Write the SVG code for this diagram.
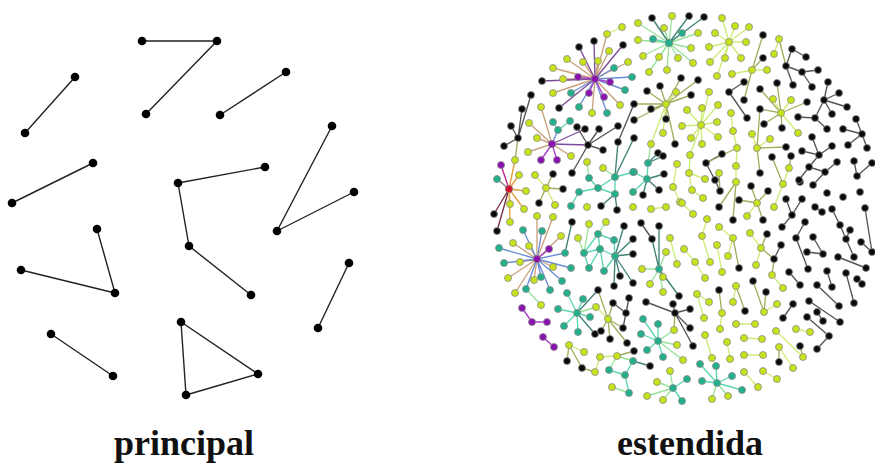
<svg xmlns="http://www.w3.org/2000/svg" width="875" height="464" viewBox="0 0 875 464">
<style>
.le{stroke:#222;stroke-width:1.4;fill:none}
.ln circle{fill:#000}
.e{fill:none;stroke-width:1.35}
.kk{stroke:#555}.ky{stroke:#a3ad5e}.yy{stroke:#cdee76}.yt{stroke:#98e39a}.tt{stroke:#5cd6b2}.kt{stroke:#3f8276}
.py{stroke:#c9a27e}.pt{stroke:#6b8cd6}.pk{stroke:#7d4a9a}.pp{stroke:#a83ccc}.rk{stroke:#7a3040}.ry{stroke:#e2a040}.rt{stroke:#8a7a90}.rp{stroke:#c02a8a}
.nd circle{stroke:#8a8a8a;stroke-width:0.8}
#ny circle{fill:#c9e31b}#nt circle{fill:#22b08c}#np circle{fill:#8a10b0}#nr circle{fill:#d3102c}#nk circle{fill:#0a0a0a}
.lbl{font-family:"Liberation Serif",serif;font-weight:bold;font-size:36px;fill:#111;text-anchor:middle}
</style>
<rect width="875" height="464" fill="#fff"/>
<g id="left-edges">
<path class="le" d="M142 41L217 41M217 41L146 114M75 77L25 133M286 72L220 115M332 126L277 231M277 231L354 192M93 163L12 203M265 167L178 183M178 183L189 246M189 246L251 295M97 229L115 293M21 270L115 293M349 263L318 328M51 334L113 376M181 322L258 374M258 374L186 395M186 395L181 322"/>
</g>
<g class="ln">
<g id="l1"><circle cx="142" cy="41" r="4.3"/></g>
<g id="l2"><circle cx="217" cy="41" r="4.3"/></g>
<g id="l3"><circle cx="146" cy="114" r="4.3"/></g>
<g id="l4"><circle cx="75" cy="77" r="4.3"/></g>
<g id="l5"><circle cx="25" cy="133" r="4.3"/></g>
<g id="l6"><circle cx="286" cy="72" r="4.3"/></g>
<g id="l7"><circle cx="220" cy="115" r="4.3"/></g>
<g id="l8"><circle cx="332" cy="126" r="4.3"/></g>
<g id="l9"><circle cx="277" cy="231" r="4.3"/></g>
<g id="l10"><circle cx="354" cy="192" r="4.3"/></g>
<g id="l11"><circle cx="93" cy="163" r="4.3"/></g>
<g id="l12"><circle cx="12" cy="203" r="4.3"/></g>
<g id="l13"><circle cx="265" cy="167" r="4.3"/></g>
<g id="l14"><circle cx="178" cy="183" r="4.3"/></g>
<g id="l15"><circle cx="189" cy="246" r="4.3"/></g>
<g id="l16"><circle cx="251" cy="295" r="4.3"/></g>
<g id="l17"><circle cx="97" cy="229" r="4.3"/></g>
<g id="l18"><circle cx="21" cy="270" r="4.3"/></g>
<g id="l19"><circle cx="115" cy="293" r="4.3"/></g>
<g id="l20"><circle cx="349" cy="263" r="4.3"/></g>
<g id="l21"><circle cx="318" cy="328" r="4.3"/></g>
<g id="l22"><circle cx="51" cy="334" r="4.3"/></g>
<g id="l23"><circle cx="113" cy="376" r="4.3"/></g>
<g id="l24"><circle cx="181" cy="322" r="4.3"/></g>
<g id="l25"><circle cx="258" cy="374" r="4.3"/></g>
<g id="l26"><circle cx="186" cy="395" r="4.3"/></g>
</g>
<g id="right-edges">
<path class="e kk" d="M518 138L511 126M518 138L522 109M518 138L531 95M518 138L504 146M588 145L599 129M588 145L618 126M588 145L603 150M588 145L572 173M588 145L577 127M634 104L618 142M706 163L715 180M706 163L722 154M715 180L720 191M729 92L744 82M729 92L747 118M792 49L806 57M792 49L786 66M786 66L802 72M802 72L818 70M802 72L812 87M786 66L793 85M824 100L828 82M824 100L839 93M824 100L847 107M824 100L832 114M824 100L815 118M815 118L798 117M815 118L827 129M862 134L856 119M862 134L843 129M862 134L848 145M862 134L867 148M819 155L812 137M819 155L832 146M819 155L802 151M819 155L809 167M809 167L825 172M825 172L837 162M809 167L799 180M825 172L813 185M857 176L854 161M857 176L872 163M786 199L792 215M802 199L792 215M626 313L613 303M629 298L626 313M626 313L623 328M641 223L652 239M675 313L673 304M675 313L690 309M675 313L646 302M675 313L690 328M675 313L693 346M774 259L781 245M792 215L782 227M796 238L805 222M796 238L808 269M813 237L823 254M807 252L823 254M822 212L815 207M832 209L840 225M840 225L846 239M846 239L850 230M846 239L854 257M861 242L872 252M865 208L872 252M838 257L866 268M789 272L800 285M827 271L832 287M817 285L839 306M846 273L854 303M857 279L862 284M793 304L783 318M809 301L840 322M817 312L823 321M807 317L829 336M829 336L817 349"/>
<path class="e ky" d="M518 138L515 160M546 188L563 189M546 188L553 174M546 188L539 203M666 104L647 91M666 104L660 86M666 104L681 78M666 104L698 80M666 104L691 95M666 104L651 109M666 104L634 104M666 104L634 120M666 104L666 119M666 104L675 144M706 163L737 148M719 173L720 191M736 182L719 207M736 182L733 220M752 70L763 35M752 70L744 100M752 70L763 58M779 39L786 66M781 113L777 83M781 113L760 89M781 113L807 102M781 113L760 109M781 113L764 124M781 113L782 128M757 148L786 147M757 148L760 173M757 148L760 109M772 157L783 184M791 156L789 168M757 203L751 186M757 203L768 191M757 203L739 200M757 203L763 220M675 313L674 330M608 319L598 290M608 319L613 303M608 319L601 331M608 319L610 339M608 319L623 328M608 319L627 343M569 345L567 361M569 345L582 368M582 368L595 372M617 356L634 351M733 238L739 268M719 290L722 313M736 286L745 311M767 234L761 248M761 248L774 259M774 259L772 275M753 281L764 312M766 292L764 312M779 347L779 362M800 346L803 357"/>
<path class="e yy" d="M607 34L622 27M729 42L722 18M729 42L735 26M729 42L749 27M729 42L715 33M729 42L746 42M729 42L709 47M729 42L725 58M729 42L741 58M729 42L710 62M729 42L717 76M701 125L709 92M701 125L718 105M701 125L702 108M701 125L687 110M701 125L682 126M701 125L717 122M701 125L691 138M701 125L702 144M701 125L718 137M701 125L690 155M666 104L676 92M666 104L663 133M666 104L651 144M677 164L673 187M689 173L690 155M689 173L705 179M689 173L692 190M692 190L703 198M673 187L680 202M737 148L733 131M733 131L731 113M736 166L737 148M736 166L736 182M752 70L767 70M752 70L732 74M774 54L779 39M781 113L773 99M781 113L791 100M781 113L798 133M757 148L770 139M757 148L752 134M789 168L783 184M783 184L774 207M757 203L747 216M535 175L546 188M546 188L555 205M670 238L677 264M684 249L695 262M695 262L705 278M707 219L702 236M702 236L710 262M717 245L722 272M719 227L733 238M733 238L728 256M697 294L709 302M697 294L704 318M736 286L733 302M705 335L712 358M727 342L730 359M761 248L756 265M772 275L783 288M761 248L750 233M764 312L777 304M776 331L803 357M796 329L810 332M779 347L793 368M763 371L777 379M744 338L762 339M744 355L763 355M744 372L758 387M755 324L736 324M720 329L722 313M569 345L584 352M600 357L617 356M600 357L595 372M608 319L596 307M693 214L682 203M651 209L666 207"/>
<path class="e yt" d="M669 43L672 16M669 43L638 23M669 43L664 28M669 43L698 33M669 43L638 40M669 43L691 48M669 43L643 56M669 43L659 57M669 43L678 58M669 43L693 63M669 43L649 72M669 43L667 70M587 162L589 178M603 168L615 177M651 144L648 163M526 289L541 305M589 224L584 253M578 238L584 253M606 222L598 234M577 313L596 307M658 341L674 330M658 341L677 345M658 341L683 360M617 356L633 361M617 356L609 370M612 387L629 393M673 388L670 371M673 388L657 382M673 388L647 396M673 388L663 400M717 383L712 399M717 383L728 396M659 269L666 252M659 269L642 269M659 269L650 284M659 269L663 277M659 269L663 292"/>
<path class="e tt" d="M669 43L682 33M669 43L653 39M558 130L553 122M558 130L570 121M589 178L598 188M598 188L615 194M615 177L634 172M615 177L615 194M598 188L579 192M579 192L571 206M615 177L598 188M647 179L648 163M647 179L633 172M647 179L633 192M584 253L598 234M598 234L600 249M600 249L615 256M584 253L589 268M589 268L600 249M600 249L604 271M604 271L615 256M614 240L615 256M598 234L614 240M584 253L600 249M577 313L567 293M577 313L583 299M577 313L558 309M577 313L590 317M577 313L564 326M577 313L578 332M633 361L625 375M609 370L625 375M625 375L629 393M658 341L643 319M658 341L658 324M658 341L641 334M658 341L647 350M658 341L663 357M673 388L687 379M673 388L682 401M717 383L700 364M717 383L716 366M717 383L732 376M717 383L702 381M717 383L742 390"/>
<path class="e kt" d="M669 43L652 18M669 43L689 16M669 43L704 17M615 177L618 142M615 194L601 206M615 194L617 210M634 138L615 177M647 179L664 174M647 179L659 190M647 179L643 195M648 163L658 153M648 163L663 156M615 256L624 226M615 256L633 239M615 256L633 254M615 256L620 276M615 256L633 283M615 256L614 286M577 313L598 290M577 313L595 334M633 361L650 366M659 269L659 226M659 269L652 239M659 269L679 296M565 253L572 222"/>
<path class="e py" d="M595 79L598 61M595 79L609 51M595 79L607 34M595 79L583 62M595 79L567 59M595 79L553 68M595 79L563 79M595 79L553 93M595 79L592 113M595 79L620 105M595 79L628 62M552 144L541 107M552 144L529 123M552 144L537 138M552 144L528 152M552 144L571 156M537 259L537 216M537 259L553 217M537 259L561 236M537 259L513 243M537 259L529 246M537 259L520 262M537 259L553 267M537 259L508 278M537 259L534 280M537 259L515 293"/>
<path class="e pt" d="M595 79L571 93M595 79L579 107M595 79L607 113M595 79L625 90M595 79L632 77M595 79L614 68M552 144L558 130M537 259L523 230M537 259L542 231M537 259L499 248M537 259L565 253M537 259L504 263M537 259L571 268M537 259L541 277M537 259L562 281M537 259L526 289M537 259L550 290"/>
<path class="e pk" d="M595 79L594 41M595 79L579 47M595 79L623 45M595 79L542 81M595 79L559 108M552 144L588 145M552 144L585 129"/>
<path class="e pp" d="M595 79L578 77M595 79L589 93M595 79L604 97M595 79L610 82M552 144L541 160M552 144L557 160M537 259L549 249M522 308L532 322M532 322L547 322M543 337L554 347"/>
<path class="e rk" d="M509 189L494 214M509 189L497 231"/>
<path class="e ry" d="M509 189L519 175M509 189L526 191M509 189L515 160M509 189L510 204M509 189L510 222M509 189L524 209"/>
<path class="e rt" d="M509 189L497 179"/>
<path class="e rp" d="M509 189L501 165"/>
</g>
<g id="nk" class="nd">
<circle cx="594" cy="41" r="3.5"/><circle cx="579" cy="47" r="3.5"/><circle cx="623" cy="45" r="3.5"/><circle cx="542" cy="81" r="3.5"/><circle cx="559" cy="108" r="3.5"/>
<circle cx="518" cy="138" r="3.5"/><circle cx="511" cy="126" r="3.5"/><circle cx="522" cy="109" r="3.5"/><circle cx="531" cy="95" r="3.5"/><circle cx="504" cy="146" r="3.5"/>
<circle cx="588" cy="145" r="3.5"/><circle cx="599" cy="129" r="3.5"/><circle cx="618" cy="126" r="3.5"/><circle cx="603" cy="150" r="3.5"/><circle cx="572" cy="173" r="3.5"/><circle cx="577" cy="127" r="3.5"/><circle cx="585" cy="129" r="3.5"/>
<circle cx="494" cy="214" r="3.5"/><circle cx="497" cy="231" r="3.5"/><circle cx="563" cy="189" r="3.5"/><circle cx="553" cy="174" r="3.5"/><circle cx="539" cy="203" r="3.5"/>
<circle cx="652" cy="18" r="3.5"/><circle cx="689" cy="16" r="3.5"/><circle cx="704" cy="17" r="3.5"/>
<circle cx="647" cy="91" r="3.5"/><circle cx="660" cy="86" r="3.5"/><circle cx="681" cy="78" r="3.5"/><circle cx="698" cy="80" r="3.5"/><circle cx="691" cy="95" r="3.5"/><circle cx="651" cy="109" r="3.5"/><circle cx="634" cy="104" r="3.5"/><circle cx="634" cy="120" r="3.5"/><circle cx="666" cy="119" r="3.5"/><circle cx="675" cy="144" r="3.5"/>
<circle cx="618" cy="142" r="3.5"/><circle cx="634" cy="138" r="3.5"/><circle cx="658" cy="153" r="3.5"/><circle cx="663" cy="156" r="3.5"/><circle cx="664" cy="174" r="3.5"/><circle cx="659" cy="190" r="3.5"/><circle cx="643" cy="195" r="3.5"/><circle cx="601" cy="206" r="3.5"/><circle cx="617" cy="210" r="3.5"/>
<circle cx="706" cy="163" r="3.5"/><circle cx="722" cy="154" r="3.5"/><circle cx="715" cy="180" r="3.5"/><circle cx="720" cy="191" r="3.5"/><circle cx="719" cy="207" r="3.5"/><circle cx="733" cy="220" r="3.5"/>
<circle cx="751" cy="186" r="3.5"/><circle cx="768" cy="191" r="3.5"/><circle cx="739" cy="200" r="3.5"/><circle cx="763" cy="220" r="3.5"/><circle cx="800" cy="182" r="3.5"/>
<circle cx="763" cy="35" r="3.5"/><circle cx="744" cy="82" r="3.5"/><circle cx="729" cy="92" r="3.5"/><circle cx="744" cy="100" r="3.5"/><circle cx="747" cy="118" r="3.5"/><circle cx="763" cy="58" r="3.5"/>
<circle cx="792" cy="49" r="3.5"/><circle cx="806" cy="57" r="3.5"/><circle cx="786" cy="66" r="3.5"/><circle cx="802" cy="72" r="3.5"/><circle cx="818" cy="70" r="3.5"/><circle cx="812" cy="87" r="3.5"/><circle cx="793" cy="85" r="3.5"/>
<circle cx="824" cy="100" r="3.5"/><circle cx="828" cy="82" r="3.5"/><circle cx="839" cy="93" r="3.5"/><circle cx="847" cy="107" r="3.5"/><circle cx="832" cy="114" r="3.5"/><circle cx="815" cy="118" r="3.5"/><circle cx="798" cy="117" r="3.5"/><circle cx="827" cy="129" r="3.5"/>
<circle cx="777" cy="83" r="3.5"/><circle cx="760" cy="89" r="3.5"/><circle cx="807" cy="102" r="3.5"/><circle cx="760" cy="109" r="3.5"/><circle cx="764" cy="124" r="3.5"/><circle cx="782" cy="128" r="3.5"/><circle cx="786" cy="147" r="3.5"/><circle cx="760" cy="173" r="3.5"/>
<circle cx="862" cy="134" r="3.5"/><circle cx="856" cy="119" r="3.5"/><circle cx="843" cy="129" r="3.5"/><circle cx="848" cy="145" r="3.5"/><circle cx="867" cy="148" r="3.5"/>
<circle cx="819" cy="155" r="3.5"/><circle cx="812" cy="137" r="3.5"/><circle cx="832" cy="146" r="3.5"/><circle cx="802" cy="151" r="3.5"/><circle cx="809" cy="167" r="3.5"/><circle cx="825" cy="172" r="3.5"/><circle cx="837" cy="162" r="3.5"/><circle cx="799" cy="180" r="3.5"/><circle cx="813" cy="185" r="3.5"/>
<circle cx="857" cy="176" r="3.5"/><circle cx="854" cy="161" r="3.5"/><circle cx="872" cy="163" r="3.5"/>
<circle cx="772" cy="157" r="3.5"/><circle cx="791" cy="156" r="3.5"/><circle cx="786" cy="199" r="3.5"/><circle cx="802" cy="199" r="3.5"/><circle cx="827" cy="193" r="3.5"/><circle cx="843" cy="197" r="3.5"/><circle cx="860" cy="192" r="3.5"/>
<circle cx="572" cy="222" r="3.5"/><circle cx="624" cy="226" r="3.5"/><circle cx="633" cy="239" r="3.5"/><circle cx="633" cy="254" r="3.5"/><circle cx="620" cy="276" r="3.5"/><circle cx="633" cy="283" r="3.5"/><circle cx="614" cy="286" r="3.5"/>
<circle cx="598" cy="290" r="3.5"/><circle cx="595" cy="334" r="3.5"/><circle cx="613" cy="303" r="3.5"/><circle cx="601" cy="331" r="3.5"/><circle cx="610" cy="339" r="3.5"/><circle cx="623" cy="328" r="3.5"/><circle cx="627" cy="343" r="3.5"/><circle cx="626" cy="313" r="3.5"/><circle cx="629" cy="298" r="3.5"/>
<circle cx="567" cy="361" r="3.5"/><circle cx="582" cy="368" r="3.5"/><circle cx="634" cy="351" r="3.5"/><circle cx="650" cy="366" r="3.5"/>
<circle cx="675" cy="313" r="3.5"/><circle cx="673" cy="304" r="3.5"/><circle cx="690" cy="309" r="3.5"/><circle cx="646" cy="302" r="3.5"/><circle cx="690" cy="328" r="3.5"/><circle cx="693" cy="346" r="3.5"/>
<circle cx="641" cy="223" r="3.5"/><circle cx="652" cy="239" r="3.5"/><circle cx="659" cy="226" r="3.5"/><circle cx="679" cy="296" r="3.5"/>
<circle cx="739" cy="268" r="3.5"/><circle cx="719" cy="290" r="3.5"/><circle cx="745" cy="311" r="3.5"/>
<circle cx="767" cy="234" r="3.5"/><circle cx="774" cy="259" r="3.5"/><circle cx="781" cy="245" r="3.5"/>
<circle cx="792" cy="215" r="3.5"/><circle cx="782" cy="227" r="3.5"/><circle cx="805" cy="222" r="3.5"/><circle cx="796" cy="238" r="3.5"/><circle cx="808" cy="269" r="3.5"/><circle cx="813" cy="237" r="3.5"/><circle cx="823" cy="254" r="3.5"/><circle cx="807" cy="252" r="3.5"/><circle cx="822" cy="212" r="3.5"/><circle cx="815" cy="207" r="3.5"/><circle cx="832" cy="209" r="3.5"/><circle cx="840" cy="225" r="3.5"/><circle cx="846" cy="239" r="3.5"/><circle cx="850" cy="230" r="3.5"/><circle cx="854" cy="257" r="3.5"/><circle cx="861" cy="242" r="3.5"/><circle cx="872" cy="252" r="3.5"/><circle cx="865" cy="208" r="3.5"/><circle cx="838" cy="257" r="3.5"/><circle cx="866" cy="268" r="3.5"/>
<circle cx="789" cy="272" r="3.5"/><circle cx="800" cy="285" r="3.5"/><circle cx="827" cy="271" r="3.5"/><circle cx="832" cy="287" r="3.5"/><circle cx="817" cy="285" r="3.5"/><circle cx="839" cy="306" r="3.5"/><circle cx="846" cy="273" r="3.5"/><circle cx="854" cy="303" r="3.5"/><circle cx="857" cy="279" r="3.5"/><circle cx="862" cy="284" r="3.5"/>
<circle cx="753" cy="281" r="3.5"/><circle cx="766" cy="292" r="3.5"/><circle cx="793" cy="304" r="3.5"/><circle cx="783" cy="318" r="3.5"/><circle cx="809" cy="301" r="3.5"/><circle cx="840" cy="322" r="3.5"/><circle cx="817" cy="312" r="3.5"/><circle cx="823" cy="321" r="3.5"/><circle cx="807" cy="317" r="3.5"/><circle cx="829" cy="336" r="3.5"/><circle cx="817" cy="349" r="3.5"/>
<circle cx="779" cy="362" r="3.5"/><circle cx="800" cy="346" r="3.5"/>
</g>
<g id="ny" class="nd">
<circle cx="598" cy="61" r="3.5"/><circle cx="609" cy="51" r="3.5"/><circle cx="607" cy="34" r="3.5"/><circle cx="622" cy="27" r="3.5"/><circle cx="583" cy="62" r="3.5"/><circle cx="567" cy="59" r="3.5"/><circle cx="553" cy="68" r="3.5"/><circle cx="563" cy="79" r="3.5"/><circle cx="553" cy="93" r="3.5"/><circle cx="592" cy="113" r="3.5"/><circle cx="620" cy="105" r="3.5"/><circle cx="628" cy="62" r="3.5"/>
<circle cx="541" cy="107" r="3.5"/><circle cx="529" cy="123" r="3.5"/><circle cx="537" cy="138" r="3.5"/><circle cx="528" cy="152" r="3.5"/><circle cx="571" cy="156" r="3.5"/><circle cx="515" cy="160" r="3.5"/><circle cx="519" cy="175" r="3.5"/><circle cx="526" cy="191" r="3.5"/><circle cx="510" cy="204" r="3.5"/><circle cx="510" cy="222" r="3.5"/><circle cx="524" cy="209" r="3.5"/>
<circle cx="535" cy="175" r="3.5"/><circle cx="546" cy="188" r="3.5"/><circle cx="555" cy="205" r="3.5"/>
<circle cx="672" cy="16" r="3.5"/><circle cx="638" cy="23" r="3.5"/><circle cx="664" cy="28" r="3.5"/><circle cx="698" cy="33" r="3.5"/><circle cx="638" cy="40" r="3.5"/><circle cx="691" cy="48" r="3.5"/><circle cx="643" cy="56" r="3.5"/><circle cx="659" cy="57" r="3.5"/><circle cx="678" cy="58" r="3.5"/><circle cx="693" cy="63" r="3.5"/><circle cx="649" cy="72" r="3.5"/><circle cx="667" cy="70" r="3.5"/>
<circle cx="729" cy="42" r="3.5"/><circle cx="722" cy="18" r="3.5"/><circle cx="735" cy="26" r="3.5"/><circle cx="749" cy="27" r="3.5"/><circle cx="715" cy="33" r="3.5"/><circle cx="746" cy="42" r="3.5"/><circle cx="709" cy="47" r="3.5"/><circle cx="725" cy="58" r="3.5"/><circle cx="741" cy="58" r="3.5"/><circle cx="710" cy="62" r="3.5"/><circle cx="717" cy="76" r="3.5"/>
<circle cx="666" cy="104" r="3.5"/><circle cx="676" cy="92" r="3.5"/><circle cx="663" cy="133" r="3.5"/><circle cx="651" cy="144" r="3.5"/>
<circle cx="701" cy="125" r="3.5"/><circle cx="709" cy="92" r="3.5"/><circle cx="718" cy="105" r="3.5"/><circle cx="702" cy="108" r="3.5"/><circle cx="687" cy="110" r="3.5"/><circle cx="682" cy="126" r="3.5"/><circle cx="717" cy="122" r="3.5"/><circle cx="691" cy="138" r="3.5"/><circle cx="702" cy="144" r="3.5"/><circle cx="718" cy="137" r="3.5"/><circle cx="690" cy="155" r="3.5"/>
<circle cx="587" cy="162" r="3.5"/><circle cx="603" cy="168" r="3.5"/>
<circle cx="677" cy="164" r="3.5"/><circle cx="673" cy="187" r="3.5"/><circle cx="689" cy="173" r="3.5"/><circle cx="705" cy="179" r="3.5"/><circle cx="692" cy="190" r="3.5"/><circle cx="703" cy="198" r="3.5"/><circle cx="680" cy="202" r="3.5"/>
<circle cx="737" cy="148" r="3.5"/><circle cx="733" cy="131" r="3.5"/><circle cx="731" cy="113" r="3.5"/><circle cx="736" cy="166" r="3.5"/><circle cx="736" cy="182" r="3.5"/><circle cx="719" cy="173" r="3.5"/>
<circle cx="752" cy="70" r="3.5"/><circle cx="767" cy="70" r="3.5"/><circle cx="732" cy="74" r="3.5"/><circle cx="779" cy="39" r="3.5"/><circle cx="774" cy="54" r="3.5"/>
<circle cx="781" cy="113" r="3.5"/><circle cx="773" cy="99" r="3.5"/><circle cx="791" cy="100" r="3.5"/><circle cx="798" cy="133" r="3.5"/>
<circle cx="757" cy="148" r="3.5"/><circle cx="770" cy="139" r="3.5"/><circle cx="752" cy="134" r="3.5"/>
<circle cx="789" cy="168" r="3.5"/><circle cx="783" cy="184" r="3.5"/><circle cx="774" cy="207" r="3.5"/><circle cx="757" cy="203" r="3.5"/><circle cx="747" cy="216" r="3.5"/>
<circle cx="537" cy="216" r="3.5"/><circle cx="553" cy="217" r="3.5"/><circle cx="561" cy="236" r="3.5"/><circle cx="513" cy="243" r="3.5"/><circle cx="529" cy="246" r="3.5"/><circle cx="520" cy="262" r="3.5"/><circle cx="553" cy="267" r="3.5"/><circle cx="508" cy="278" r="3.5"/><circle cx="534" cy="280" r="3.5"/><circle cx="515" cy="293" r="3.5"/><circle cx="541" cy="305" r="3.5"/>
<circle cx="589" cy="224" r="3.5"/><circle cx="578" cy="238" r="3.5"/><circle cx="606" cy="222" r="3.5"/>
<circle cx="596" cy="307" r="3.5"/><circle cx="608" cy="319" r="3.5"/><circle cx="569" cy="345" r="3.5"/><circle cx="584" cy="352" r="3.5"/><circle cx="595" cy="372" r="3.5"/><circle cx="600" cy="357" r="3.5"/><circle cx="617" cy="356" r="3.5"/><circle cx="612" cy="387" r="3.5"/>
<circle cx="677" cy="345" r="3.5"/><circle cx="683" cy="360" r="3.5"/><circle cx="674" cy="330" r="3.5"/>
<circle cx="670" cy="371" r="3.5"/><circle cx="657" cy="382" r="3.5"/><circle cx="647" cy="396" r="3.5"/><circle cx="663" cy="400" r="3.5"/><circle cx="712" cy="399" r="3.5"/><circle cx="728" cy="396" r="3.5"/>
<circle cx="666" cy="252" r="3.5"/><circle cx="642" cy="269" r="3.5"/><circle cx="650" cy="284" r="3.5"/><circle cx="663" cy="277" r="3.5"/><circle cx="663" cy="292" r="3.5"/>
<circle cx="670" cy="238" r="3.5"/><circle cx="677" cy="264" r="3.5"/><circle cx="684" cy="249" r="3.5"/><circle cx="695" cy="262" r="3.5"/><circle cx="705" cy="278" r="3.5"/><circle cx="707" cy="219" r="3.5"/><circle cx="702" cy="236" r="3.5"/><circle cx="710" cy="262" r="3.5"/><circle cx="717" cy="245" r="3.5"/><circle cx="722" cy="272" r="3.5"/><circle cx="719" cy="227" r="3.5"/><circle cx="733" cy="238" r="3.5"/><circle cx="728" cy="256" r="3.5"/>
<circle cx="697" cy="294" r="3.5"/><circle cx="709" cy="302" r="3.5"/><circle cx="704" cy="318" r="3.5"/><circle cx="722" cy="313" r="3.5"/><circle cx="736" cy="286" r="3.5"/><circle cx="733" cy="302" r="3.5"/><circle cx="736" cy="324" r="3.5"/><circle cx="705" cy="335" r="3.5"/><circle cx="712" cy="358" r="3.5"/><circle cx="727" cy="342" r="3.5"/><circle cx="730" cy="359" r="3.5"/><circle cx="744" cy="338" r="3.5"/><circle cx="744" cy="355" r="3.5"/><circle cx="744" cy="372" r="3.5"/><circle cx="720" cy="329" r="3.5"/>
<circle cx="761" cy="248" r="3.5"/><circle cx="756" cy="265" r="3.5"/><circle cx="772" cy="275" r="3.5"/><circle cx="783" cy="288" r="3.5"/><circle cx="750" cy="233" r="3.5"/><circle cx="764" cy="312" r="3.5"/><circle cx="777" cy="304" r="3.5"/>
<circle cx="755" cy="324" r="3.5"/><circle cx="762" cy="339" r="3.5"/><circle cx="763" cy="355" r="3.5"/><circle cx="776" cy="331" r="3.5"/><circle cx="796" cy="329" r="3.5"/><circle cx="810" cy="332" r="3.5"/><circle cx="779" cy="347" r="3.5"/><circle cx="803" cy="357" r="3.5"/><circle cx="793" cy="368" r="3.5"/><circle cx="763" cy="371" r="3.5"/><circle cx="777" cy="379" r="3.5"/><circle cx="758" cy="387" r="3.5"/>
<circle cx="587" cy="207" r="3.5"/><circle cx="633" cy="207" r="3.5"/><circle cx="651" cy="209" r="3.5"/><circle cx="666" cy="207" r="3.5"/><circle cx="682" cy="203" r="3.5"/><circle cx="693" cy="214" r="3.5"/>
</g>
<g id="nt" class="nd">
<circle cx="571" cy="93" r="3.5"/><circle cx="579" cy="107" r="3.5"/><circle cx="607" cy="113" r="3.5"/><circle cx="625" cy="90" r="3.5"/><circle cx="632" cy="77" r="3.5"/><circle cx="614" cy="68" r="3.5"/>
<circle cx="558" cy="130" r="3.5"/><circle cx="553" cy="122" r="3.5"/><circle cx="570" cy="121" r="3.5"/><circle cx="497" cy="179" r="3.5"/>
<circle cx="682" cy="33" r="3.5"/><circle cx="653" cy="39" r="3.5"/><circle cx="669" cy="43" r="3.7"/>
<circle cx="615" cy="177" r="3.5"/><circle cx="589" cy="178" r="3.5"/><circle cx="598" cy="188" r="3.5"/><circle cx="615" cy="194" r="3.5"/><circle cx="634" cy="172" r="3.5"/><circle cx="579" cy="192" r="3.5"/><circle cx="571" cy="206" r="3.5"/>
<circle cx="647" cy="179" r="3.5"/><circle cx="648" cy="163" r="3.5"/><circle cx="633" cy="172" r="3.5"/><circle cx="633" cy="192" r="3.5"/>
<circle cx="523" cy="230" r="3.5"/><circle cx="542" cy="231" r="3.5"/><circle cx="499" cy="248" r="3.5"/><circle cx="565" cy="253" r="3.5"/><circle cx="504" cy="263" r="3.5"/><circle cx="571" cy="268" r="3.5"/><circle cx="541" cy="277" r="3.5"/><circle cx="562" cy="281" r="3.5"/><circle cx="526" cy="289" r="3.5"/><circle cx="550" cy="290" r="3.5"/>
<circle cx="598" cy="234" r="3.5"/><circle cx="584" cy="253" r="3.5"/><circle cx="600" cy="249" r="3.5"/><circle cx="615" cy="256" r="3.5"/><circle cx="614" cy="240" r="3.5"/><circle cx="589" cy="268" r="3.5"/><circle cx="604" cy="271" r="3.5"/>
<circle cx="577" cy="313" r="3.5"/><circle cx="567" cy="293" r="3.5"/><circle cx="583" cy="299" r="3.5"/><circle cx="558" cy="309" r="3.5"/><circle cx="590" cy="317" r="3.5"/><circle cx="564" cy="326" r="3.5"/><circle cx="578" cy="332" r="3.5"/>
<circle cx="633" cy="361" r="3.5"/><circle cx="609" cy="370" r="3.5"/><circle cx="625" cy="375" r="3.5"/><circle cx="629" cy="393" r="3.5"/>
<circle cx="658" cy="341" r="3.5"/><circle cx="643" cy="319" r="3.5"/><circle cx="658" cy="324" r="3.5"/><circle cx="641" cy="334" r="3.5"/><circle cx="647" cy="350" r="3.5"/><circle cx="663" cy="357" r="3.5"/>
<circle cx="673" cy="388" r="3.5"/><circle cx="687" cy="379" r="3.5"/><circle cx="682" cy="401" r="3.5"/>
<circle cx="717" cy="383" r="3.5"/><circle cx="700" cy="364" r="3.5"/><circle cx="716" cy="366" r="3.5"/><circle cx="732" cy="376" r="3.5"/><circle cx="702" cy="381" r="3.5"/><circle cx="742" cy="390" r="3.5"/>
<circle cx="659" cy="269" r="3.5"/>
</g>
<g id="np" class="nd">
<circle cx="595" cy="79" r="3.7"/><circle cx="578" cy="77" r="3.5"/><circle cx="589" cy="93" r="3.5"/><circle cx="604" cy="97" r="3.5"/><circle cx="610" cy="82" r="3.5"/><circle cx="552" cy="144" r="3.7"/><circle cx="541" cy="160" r="3.5"/><circle cx="557" cy="160" r="3.5"/><circle cx="501" cy="165" r="3.5"/><circle cx="537" cy="259" r="3.7"/><circle cx="549" cy="249" r="3.5"/><circle cx="522" cy="308" r="3.5"/><circle cx="532" cy="322" r="3.5"/><circle cx="547" cy="322" r="3.5"/><circle cx="543" cy="337" r="3.5"/><circle cx="554" cy="347" r="3.5"/>
</g>
<g id="nr" class="nd"><circle cx="509" cy="189" r="3.7"/></g>
<text class="lbl" x="184" y="455">principal</text>
<text class="lbl" x="690" y="455">estendida</text>
</svg>
